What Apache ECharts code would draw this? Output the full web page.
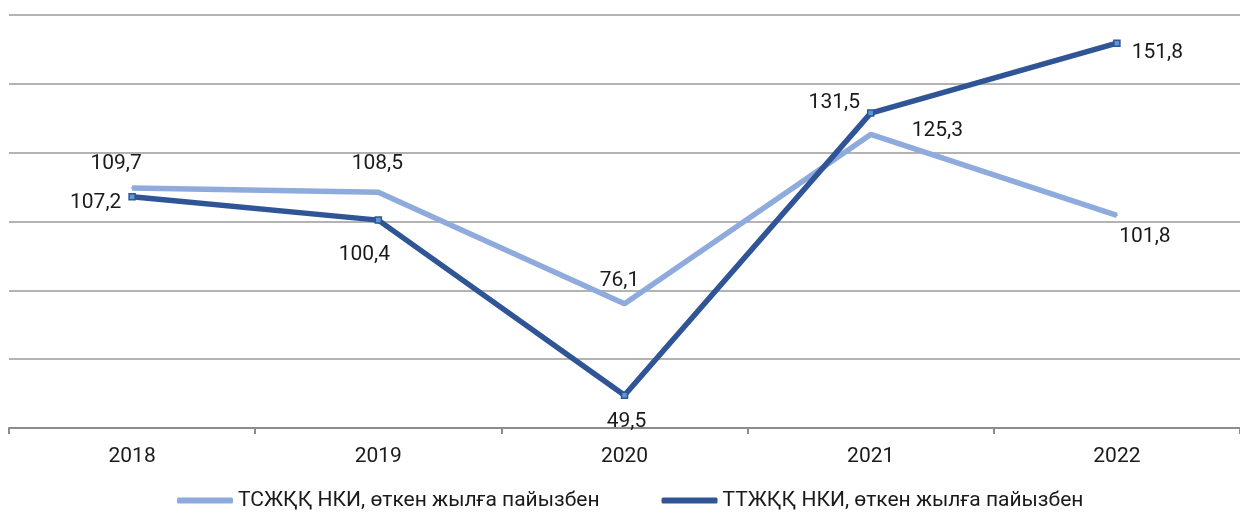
<!DOCTYPE html>
<html>
<head>
<meta charset="utf-8">
<script src="https://cdn.jsdelivr.net/npm/echarts@6/dist/echarts.min.js"></script>
<style>
html,body{margin:0;padding:0;background:#fff;}
#chart{width:1240px;height:516px;}
</style>
</head>
<body>
<div id="chart"></div>
<script>
var years = ['2018', '2019', '2020', '2021', '2022'];
var tszhkk = [109.7, 108.5, 76.1, 125.3, 101.8];
var ttzhkk = [107.2, 100.4, 49.5, 131.5, 151.8];
var seriesNames = ['ТСЖҚҚ НКИ, өткен жылға пайызбен', 'ТТЖҚҚ НКИ, өткен жылға пайызбен'];

// label placement per point (position, offset)
var lightLbl = [['top', [-16, -8]], ['top', [-1, -12]], ['top', [-5, -7]], ['right', [35, -4]], ['bottom', [28, 5]]];
var darkLbl = [['left', [-2, 6]], ['bottom', [-14, 15]], ['bottom', [2, 7]], ['left', [-2, -10]], ['right', [6, 10]]];

function fmt(p) { return p.value.toFixed(1).replace('.', ','); }

function build(vals, lbl, markerStyle) {
  return vals.map(function (v, i) {
    var d = { value: v, label: { position: lbl[i][0], offset: lbl[i][1] } };
    if (markerStyle) d.itemStyle = markerStyle;
    return d;
  });
}

var chart = echarts.init(document.getElementById('chart'));
chart.setOption({
  animation: false,
  textStyle: { fontFamily: 'Roboto' },
  grid: { left: 9, right: 0, top: 15, bottom: 88 },
  legend: {
    bottom: 0,
    left: 172,
    itemWidth: 56,
    itemHeight: 6,
    itemGap: 62,
    icon: 'roundRect',
    textStyle: { fontSize: 21, color: '#1a1a1a', fontFamily: 'Roboto' },
    data: seriesNames
  },
  xAxis: {
    type: 'category',
    data: years,
    axisLine: { lineStyle: { color: '#8c8c8c', width: 2 } },
    axisTick: { show: true, length: 6, lineStyle: { color: '#8c8c8c', width: 2 } },
    axisLabel: { fontSize: 21, color: '#1a1a1a', margin: 18 }
  },
  yAxis: {
    type: 'value',
    min: 40,
    max: 160,
    interval: 20,
    axisLabel: { show: false },
    axisLine: { show: false },
    axisTick: { show: false },
    splitLine: { lineStyle: { color: '#9a9a9a', width: 1.5 } }
  },
  series: [
    {
      name: seriesNames[0],
      type: 'line',
      data: build(tszhkk, lightLbl),
      symbol: 'circle',
      symbolSize: 2,
      itemStyle: { color: '#8faadc' },
      lineStyle: { color: '#8faadc', width: 5.5 },
      label: { show: true, formatter: fmt, fontSize: 21, color: '#1a1a1a' },
      z: 2
    },
    {
      name: seriesNames[1],
      type: 'line',
      data: build(ttzhkk, darkLbl, { color: '#5b9bd5', borderColor: '#2f5597', borderWidth: 1.5 }),
      symbol: 'rect',
      symbolSize: 6,
      itemStyle: { color: '#2f5597' },
      lineStyle: { color: '#2f5597', width: 5.5 },
      label: { show: true, formatter: fmt, fontSize: 21, color: '#1a1a1a' },
      z: 3
    }
  ]
});
</script>
</body>
</html>
